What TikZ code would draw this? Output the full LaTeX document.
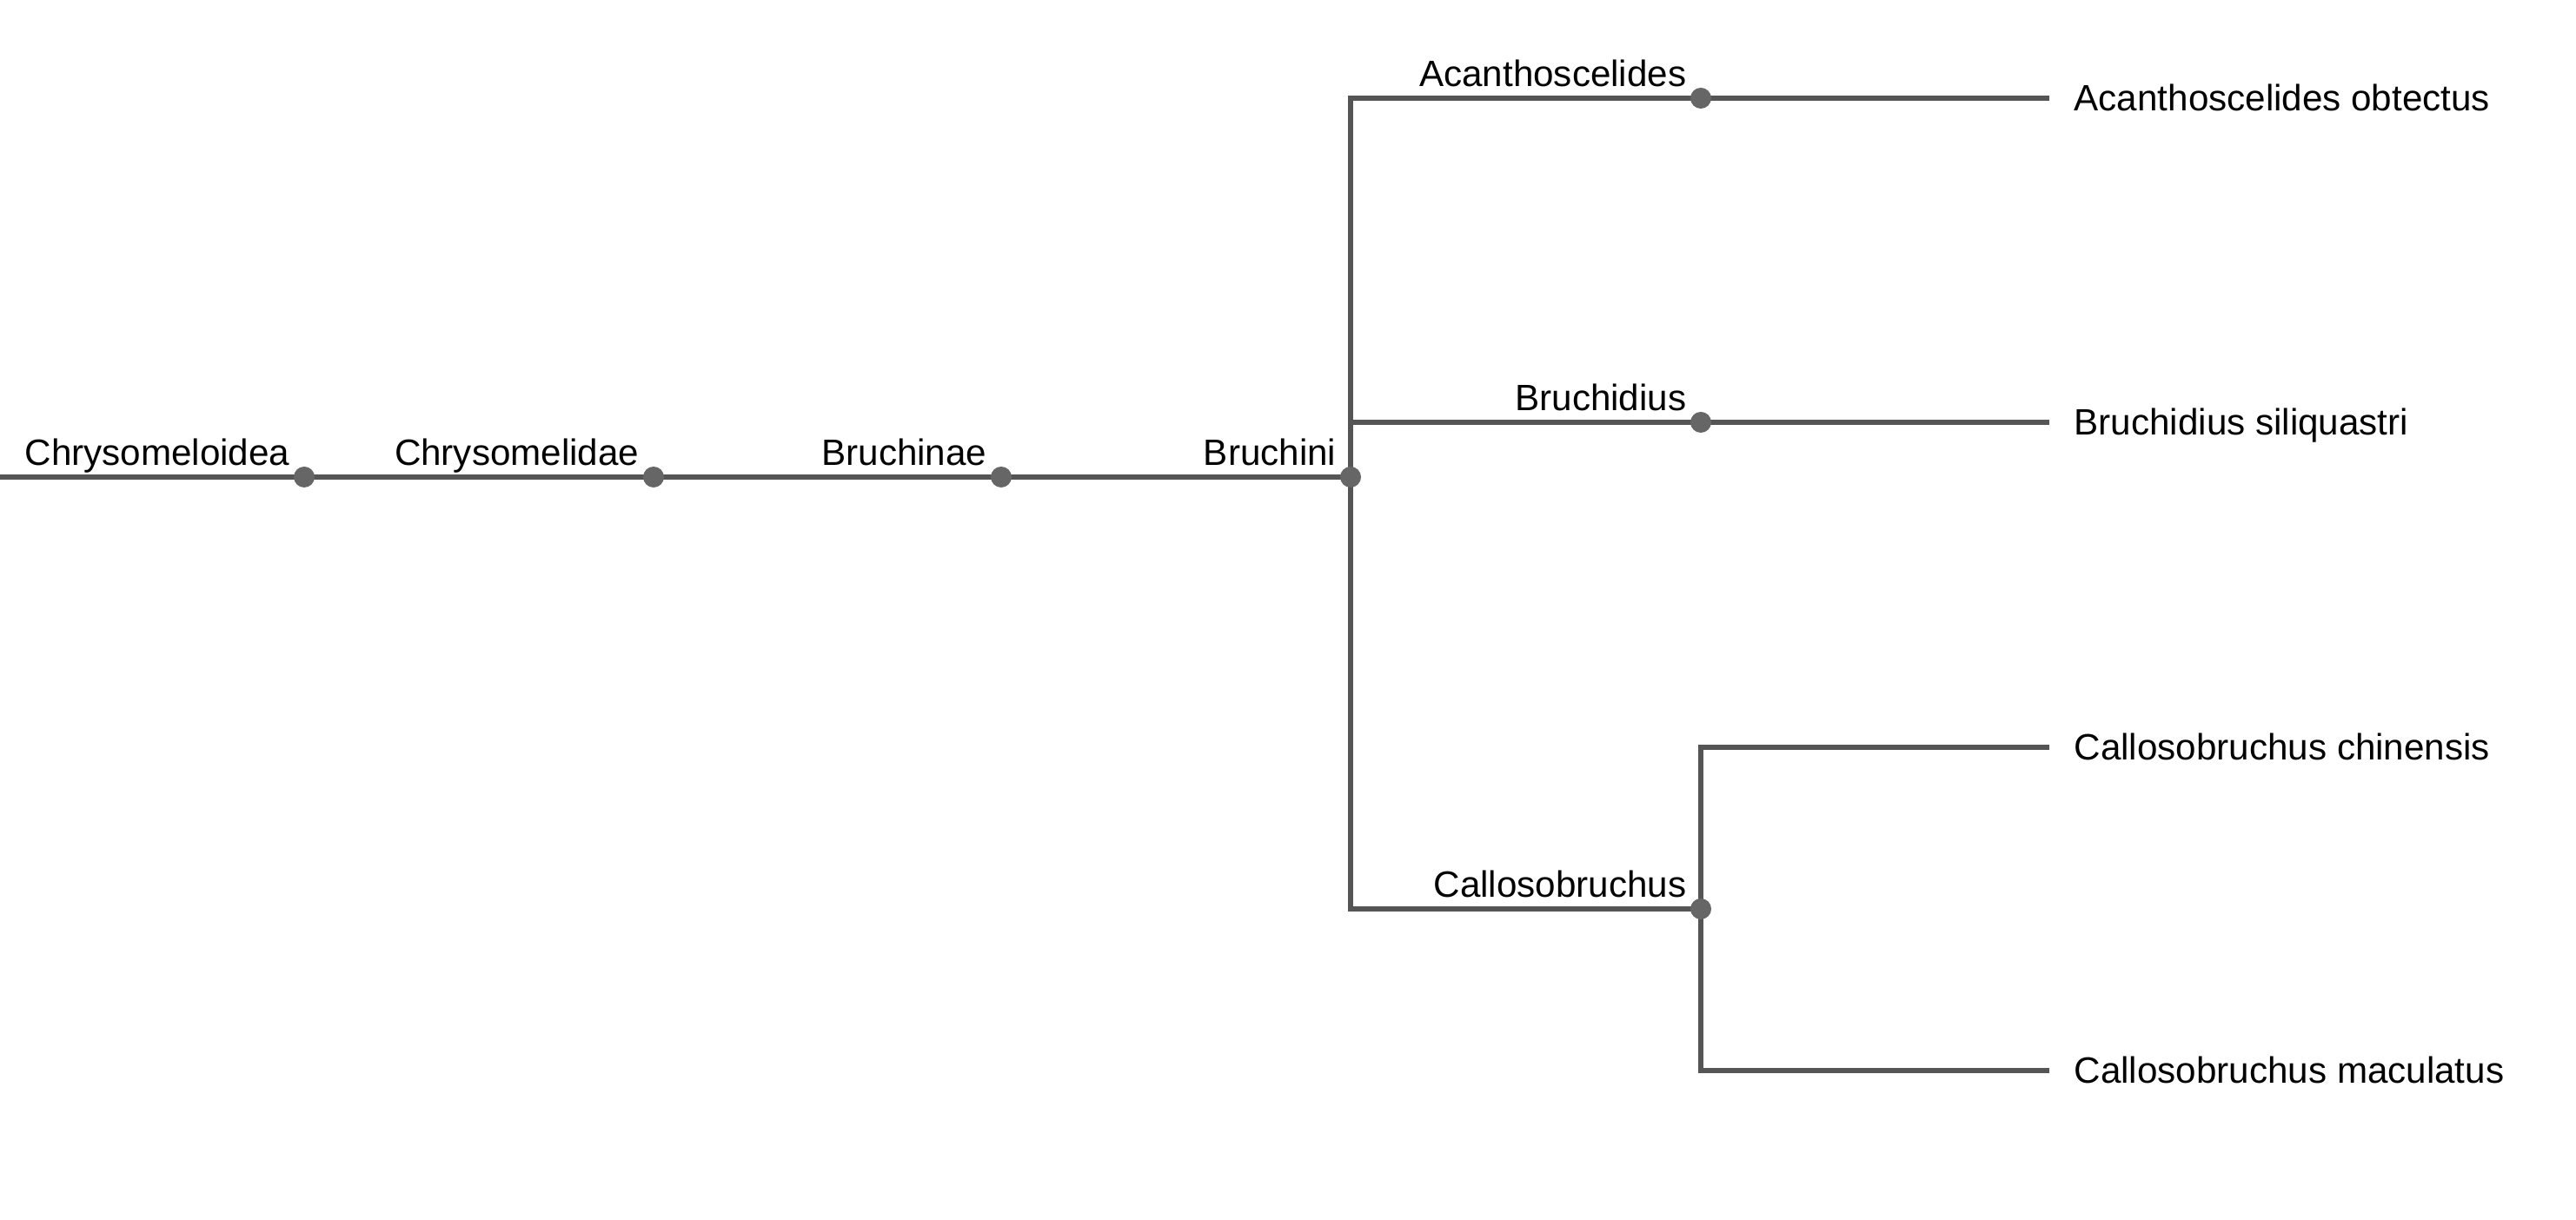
\documentclass[tikz,border=0pt]{standalone}
\usepackage{fontspec}
\setmainfont{Liberation Sans}
\definecolor{branch}{HTML}{555555}
\definecolor{knot}{HTML}{666666}
\begin{document}
\begin{tikzpicture}[
  edge/.style={draw=branch,line width=1.6pt},
  clade/.style={circle,fill=knot,inner sep=0pt,minimum size=0.24cm},
  tag/.style={anchor=base east,inner sep=0pt,font=\fontsize{12}{14}\selectfont,xshift=-0.16cm,yshift=0.13cm},
  leaf/.style={anchor=base west,inner sep=0pt,font=\fontsize{12}{14}\selectfont,xshift=0.28cm,yshift=-0.15cm}]
  \useasboundingbox[fill=white] (0,0) rectangle (29.64,14.04);
  % ranks along the stem
  \coordinate (root) at (0,8.55);
  \coordinate (chrysomeloidea) at (3.50,8.55);
  \coordinate (chrysomelidae) at (7.52,8.55);
  \coordinate (bruchinae) at (11.52,8.55);
  \coordinate (bruchini) at (15.54,8.55);
  \coordinate (acanthoscelides) at (19.57,12.91);
  \coordinate (bruchidius) at (19.57,9.18);
  \coordinate (callosobruchus) at (19.57,3.58);
  % species tips
  \coordinate (obtectus) at (23.58,12.91);
  \coordinate (siliquastri) at (23.58,9.18);
  \coordinate (chinensis) at (23.58,5.44);
  \coordinate (maculatus) at (23.58,1.72);
  % branches
  \draw[edge] (root) -- (bruchini);
  \draw[edge] (obtectus) -- (acanthoscelides) -| (bruchini) |- (callosobruchus);
  \draw[edge] (bruchini) |- (bruchidius) -- (siliquastri);
  \draw[edge] (chinensis) -| (callosobruchus) |- (maculatus);
  % nodes and names
  \foreach \n/\t in {chrysomeloidea/Chrysomeloidea,chrysomelidae/Chrysomelidae,
      bruchinae/Bruchinae,bruchini/Bruchini,acanthoscelides/Acanthoscelides,
      bruchidius/Bruchidius,callosobruchus/Callosobruchus}{
    \node[clade] (\n-dot) at (\n) {};
    \node[tag] (\n-tag) at (\n) {\t};
  }
  \node[leaf] (obtectus-tag) at (obtectus) {Acanthoscelides obtectus};
  \node[leaf] (siliquastri-tag) at (siliquastri) {Bruchidius siliquastri};
  \node[leaf] (chinensis-tag) at (chinensis) {Callosobruchus chinensis};
  \node[leaf] (maculatus-tag) at (maculatus) {Callosobruchus maculatus};
\end{tikzpicture}
\end{document}
